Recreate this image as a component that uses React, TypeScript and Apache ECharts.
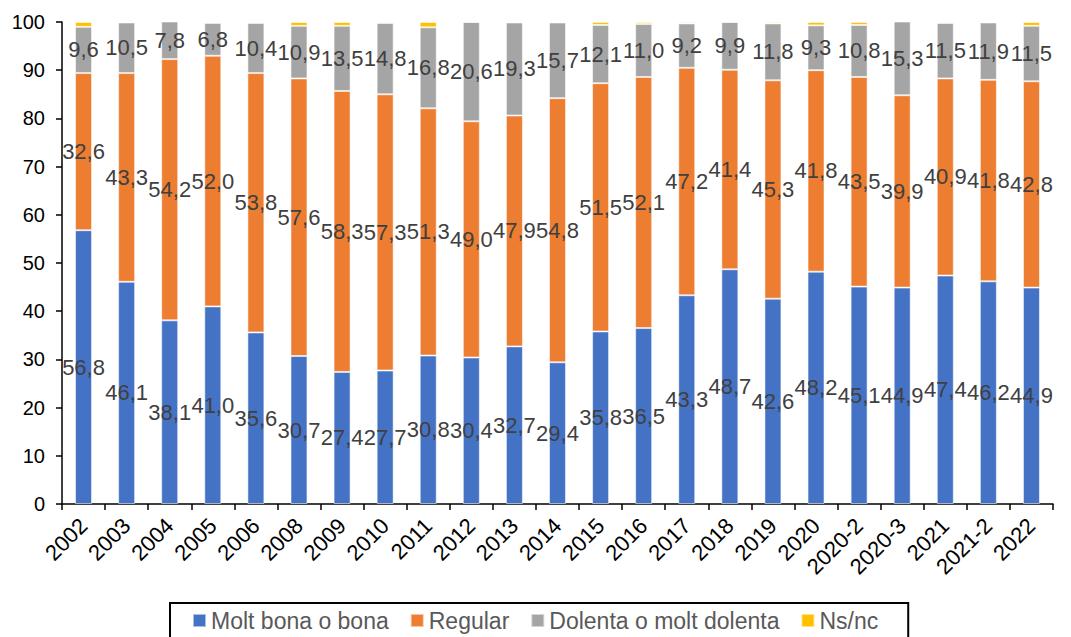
import React, { useEffect, useRef } from "react";
import * as echarts from "echarts";

const categories = [
  "2002", "2003", "2004", "2005", "2006", "2008", "2009", "2010", "2011", "2012", "2013", "2014",
  "2015", "2016", "2017", "2018", "2019", "2020", "2020-2", "2020-3", "2021", "2021-2", "2022",
];
const bona = [56.8, 46.1, 38.1, 41.0, 35.6, 30.7, 27.4, 27.7, 30.8, 30.4, 32.7, 29.4, 35.8, 36.5, 43.3, 48.7, 42.6, 48.2, 45.1, 44.9, 47.4, 46.2, 44.9];
const regular = [32.6, 43.3, 54.2, 52.0, 53.8, 57.6, 58.3, 57.3, 51.3, 49.0, 47.9, 54.8, 51.5, 52.1, 47.2, 41.4, 45.3, 41.8, 43.5, 39.9, 40.9, 41.8, 42.8];
const dolenta = [9.6, 10.5, 7.8, 6.8, 10.4, 10.9, 13.5, 14.8, 16.8, 20.6, 19.3, 15.7, 12.1, 11.0, 9.2, 9.9, 11.8, 9.3, 10.8, 15.3, 11.5, 11.9, 11.5];
const nsnc = [1.0, 0.1, 0.0, 0.2, 0.2, 0.8, 0.8, 0.2, 1.1, 0.0, 0.1, 0.1, 0.6, 0.4, 0.3, 0.0, 0.3, 0.7, 0.6, 0.0, 0.2, 0.1, 0.8];
const yTicks = [0, 10, 20, 30, 40, 50, 60, 70, 80, 90, 100];

const fmt = (v: number) => v.toFixed(1).replace(".", ",");

export default function App() {
  const ref = useRef<HTMLDivElement>(null);
  useEffect(() => {
    if (!ref.current) return;
    const chart = echarts.init(ref.current, null, { renderer: "svg" });
    const font = "'Liberation Sans', Arial, sans-serif";
    const labelBase = {
      show: true,
      position: "inside" as const,
      fontSize: 22,
      color: "#404040",
      fontFamily: font,
      formatter: (p: any) => fmt(p.value),
    };
    const border = { borderColor: "rgba(255,255,255,0.55)", borderWidth: 1 };
    chart.setOption({
      animation: false,
      grid: { left: 62, right: 18, top: 22, bottom: 133, containLabel: false },
      legend: {
        left: 170,
        top: 603,
        padding: [6, 30, 20, 22],
        borderColor: "#000",
        borderWidth: 2,
        itemWidth: 13,
        itemHeight: 13,
        itemGap: 21,
        icon: "rect",
        textStyle: { fontSize: 23, color: "#595959", fontFamily: font },
        data: ["Molt bona o bona", "Regular", "Dolenta o molt dolenta", "Ns/nc"],
      },
      xAxis: {
        type: "category",
        data: categories,
        axisLine: { lineStyle: { color: "#000", width: 1.5 } },
        axisTick: { show: true, alignWithLabel: false, length: 6, lineStyle: { color: "#000", width: 1.5 } },
        axisLabel: { rotate: 45, fontSize: 22, color: "#000", fontFamily: font, margin: 18, interval: 0 },
      },
      yAxis: {
        type: "value",
        min: 0,
        max: 100,
        interval: 10,
        axisLine: { show: true, lineStyle: { color: "#000", width: 1.5 } },
        axisTick: { show: true, length: 6, lineStyle: { color: "#000", width: 1.5 } },
        splitLine: { show: false },
        axisLabel: {
          fontSize: 20,
          color: "#000",
          fontFamily: font,
          margin: 17,
          formatter: (v: number) => (yTicks.includes(v) ? String(v) : ""),
        },
      },
      series: [
        {
          name: "Molt bona o bona",
          type: "bar",
          stack: "t",
          barWidth: 17,
          itemStyle: { color: "#4472C4", ...border },
          data: bona,
          label: labelBase,
        },
        {
          name: "Regular",
          type: "bar",
          stack: "t",
          barWidth: 17,
          itemStyle: { color: "#ED7D31", ...border },
          data: regular,
          label: labelBase,
        },
        {
          name: "Dolenta o molt dolenta",
          type: "bar",
          stack: "t",
          barWidth: 17,
          itemStyle: { color: "#A5A5A5", ...border },
          data: dolenta,
          label: labelBase,
        },
        {
          name: "Ns/nc",
          type: "bar",
          stack: "t",
          barWidth: 17,
          itemStyle: { color: "#FFC000", ...border },
          data: nsnc,
        },
      ],
    });
    return () => chart.dispose();
  }, []);
  return (
    <div
      ref={ref}
      style={{ position: "fixed", left: 0, top: 0, width: 1071, height: 637, background: "#fff" }}
    />
  );
}
